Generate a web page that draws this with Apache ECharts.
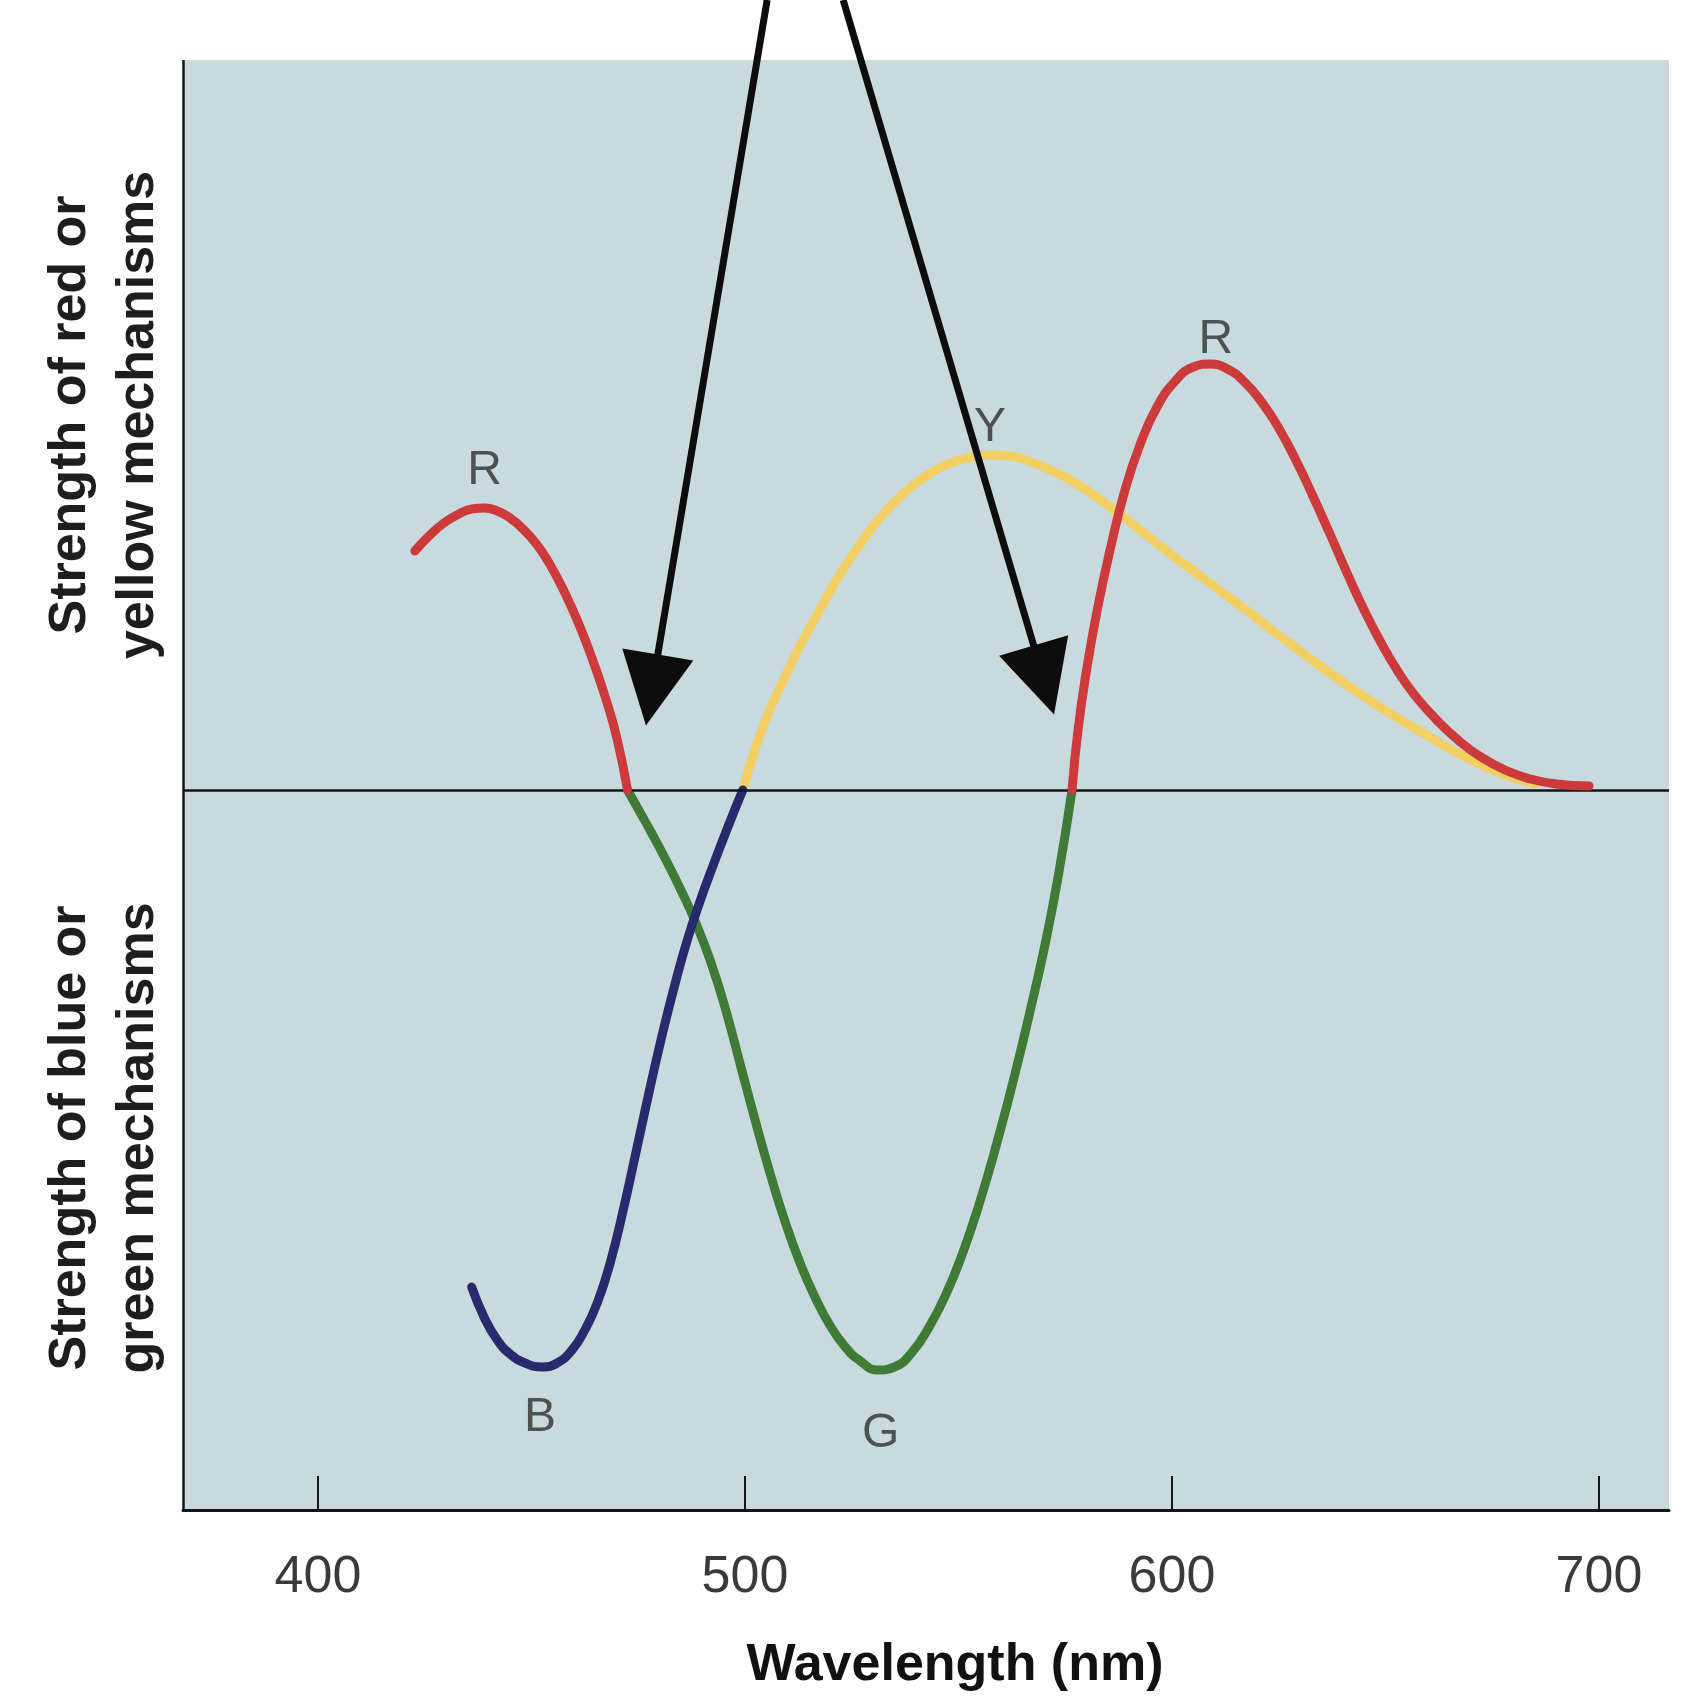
<!DOCTYPE html>
<html>
<head>
<meta charset="utf-8">
<script src="https://cdn.jsdelivr.net/npm/echarts@6/dist/echarts.min.js"></script>
<style>
html,body{margin:0;padding:0;background:#fff;}
#chart{width:1705px;height:1703px;}
</style>
</head>
<body>
<div id="chart"></div>
<script>
// ---- data (wavelength nm, strength) ----
const wavelengthTicks = [400, 500, 600, 700];

const redShort = [[422.7,2.39],[426,2.54],[429.5,2.67],[433,2.76],[436,2.81],[439,2.82],[442,2.79],[445,2.72],[448,2.61],[451,2.47],[454,2.28],[457.5,2.0],[461,1.67],[464.5,1.28],[467.5,0.9],[470,0.52],[472.5,0]];
const redLong = [[576.6,0],[578,0.6],[580,1.2],[582.5,1.8],[585.5,2.4],[589,3.0],[592.5,3.45],[596.5,3.83],[601,4.1],[605,4.23],[609,4.26],[613,4.21],[617,4.08],[621,3.88],[625,3.62],[629,3.3],[633,2.94],[637,2.56],[641,2.17],[645,1.8],[649,1.47],[653,1.18],[657,0.94],[662,0.7],[667,0.5],[672,0.34],[678,0.2],[684,0.11],[690,0.06],[697.7,0.04]];
const yellowCurve = [[499.5,0],[502,0.36],[505,0.72],[509,1.1],[513,1.45],[517.5,1.8],[522,2.14],[527,2.46],[532,2.74],[537,2.96],[542,3.13],[547,3.25],[552,3.32],[557,3.35],[562,3.34],[567,3.28],[572,3.19],[577,3.08],[582,2.94],[588,2.75],[594,2.55],[600,2.35],[606,2.16],[612,1.97],[618,1.78],[624,1.58],[630,1.39],[636,1.2],[642,1.02],[648,0.85],[654,0.69],[660,0.54],[666,0.39],[672,0.26],[678,0.15],[685,0.06]];
const blueCurve = [[436,-4.97],[439,-5.28],[442,-5.5],[445,-5.64],[448.5,-5.73],[452.5,-5.77],[456,-5.73],[459.5,-5.6],[462.5,-5.4],[465.5,-5.12],[468.5,-4.72],[471.5,-4.2],[474.5,-3.62],[477.5,-3.03],[480.5,-2.47],[483.5,-1.96],[486.5,-1.5],[489.5,-1.11],[492.5,-0.76],[496,-0.37],[499.5,0]];
const greenCurve = [[472.5,0],[475,-0.19],[478,-0.42],[481.5,-0.7],[485,-1.0],[488.5,-1.33],[492,-1.72],[495.5,-2.2],[499,-2.76],[502.5,-3.32],[506,-3.85],[509.5,-4.33],[513,-4.74],[516.5,-5.08],[520,-5.36],[523.5,-5.57],[527,-5.71],[531,-5.8],[535,-5.77],[539,-5.63],[543,-5.38],[547,-5.05],[551,-4.63],[555,-4.12],[559,-3.53],[563,-2.88],[567,-2.17],[570.5,-1.5],[573.5,-0.83],[576.6,0]];

const curveLabels = [[439,3.19,'R'],[557.4,3.62,'Y'],[610.3,4.5,'R'],[452,-6.28,'B'],[531.8,-6.44,'G']];

// arrows: [start, head]
const arrowLeft = [[505.2,7.9],[478.2,1.0]];
const arrowRight = [[523,7.9],[570,1.1]];

// ---- layout constants ----
const X_MIN = 368.4, X_MAX = 716.4, Y_MIN = -7.2, Y_MAX = 7.9, BG_TOP = 7.3;
const FONT = '"Liberation Sans", Arial, Helvetica, sans-serif';

const chart = echarts.init(document.getElementById('chart'), null, {renderer: 'canvas'});

function curve(name, data, color, z) {
  return {
    name, type: 'line', data, smooth: 0.5, symbol: 'none', z,
    lineStyle: {color, width: 9, cap: 'round', join: 'round'}
  };
}

const option = {
  animation: false,
  backgroundColor: '#ffffff',
  grid: {left: 183, right: 36, top: 0, bottom: 193},
  xAxis: {
    type: 'value', min: X_MIN, max: X_MAX, z: 6,
    axisLine: {show: true, onZero: false, lineStyle: {color: '#151515', width: 3}},
    axisTick: {show: true, inside: true, length: 34, customValues: wavelengthTicks, lineStyle: {color: '#151515', width: 2}},
    axisLabel: {show: true, customValues: wavelengthTicks, margin: 42, fontSize: 52, color: '#3a3a3a', fontFamily: FONT},
    splitLine: {show: false}
  },
  yAxis: {
    type: 'value', min: Y_MIN, max: Y_MAX,
    axisLine: {show: false}, axisTick: {show: false}, axisLabel: {show: false}, splitLine: {show: false}
  },
  graphic: [
    {type: 'text', x: 105, y: 415, rotation: Math.PI / 2,
      style: {text: 'Strength of red or\nyellow mechanisms', font: 'bold 52px ' + FONT, align: 'center', verticalAlign: 'middle', lineHeight: 68, fill: '#1e1e1e'}},
    {type: 'text', x: 105, y: 1138, rotation: Math.PI / 2,
      style: {text: 'Strength of blue or\ngreen mechanisms', font: 'bold 52px ' + FONT, align: 'center', verticalAlign: 'middle', lineHeight: 68, fill: '#1e1e1e'}},
    {type: 'text', x: 955, y: 1666,
      style: {text: 'Wavelength (nm)', font: 'bold 52px ' + FONT, align: 'center', verticalAlign: 'middle', fill: '#111'}}
  ],
  series: [
    {
      name: 'background', type: 'line', data: [], z: 0, silent: true,
      markArea: {
        silent: true,
        itemStyle: {color: '#c8dade'},
        data: [[{coord: [X_MIN, BG_TOP]}, {coord: [X_MAX, Y_MIN]}]]
      }
    },
    curve('Yellow', yellowCurve, '#f1cf63', 2),
    curve('Green', greenCurve, '#3f7b36', 3),
    curve('Blue', blueCurve, '#272a6c', 4),
    curve('Red short', redShort, '#cc3a3c', 5),
    curve('Red long', redLong, '#cc3a3c', 5),
    {
      name: 'zero', type: 'line', data: [], z: 6, silent: true,
      markLine: {
        silent: true, symbol: 'none', label: {show: false},
        lineStyle: {color: '#151515', width: 2.5, type: 'solid'},
        data: [
          {yAxis: 0},
          [{coord: [X_MIN, BG_TOP]}, {coord: [X_MIN, Y_MIN]}]
        ]
      }
    },
    {
      name: 'arrows', type: 'line', data: [], z: 10, silent: true,
      markLine: {
        silent: true, symbol: ['none', 'triangle'], symbolSize: 72, label: {show: false},
        lineStyle: {color: '#0d0d0d', width: 7, type: 'solid'},
        data: [
          [{coord: arrowLeft[0]}, {coord: arrowLeft[1]}],
          [{coord: arrowRight[0]}, {coord: arrowRight[1]}]
        ]
      }
    },
    {
      name: 'labels', type: 'scatter', z: 8, silent: true,
      data: curveLabels, symbolSize: 1, itemStyle: {color: 'rgba(0,0,0,0)'},
      label: {show: true, position: 'inside', formatter: p => p.value[2], fontSize: 48, color: '#2e2e2e', fontFamily: FONT}
    }
  ]
};
chart.setOption(option);
</script>
</body>
</html>
